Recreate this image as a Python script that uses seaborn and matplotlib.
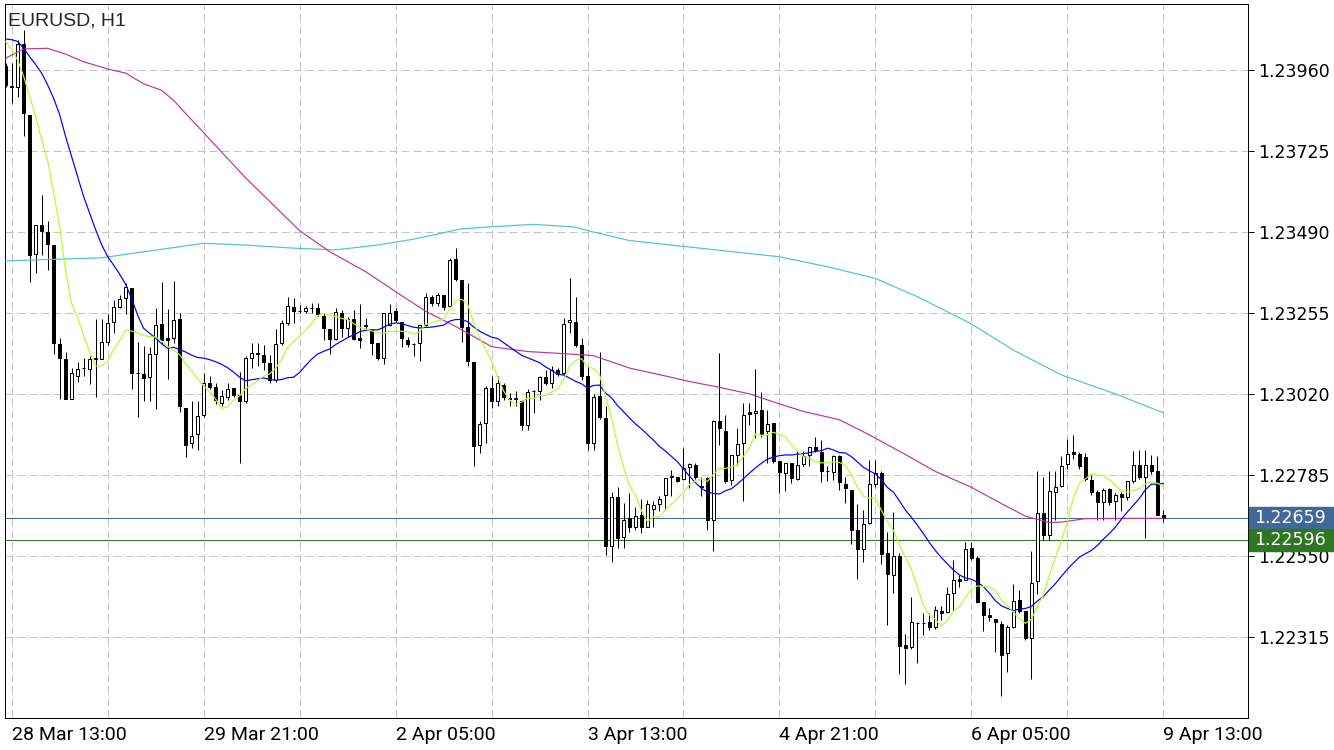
import numpy as np
import pandas as pd
import matplotlib
matplotlib.use("Agg")
import matplotlib.pyplot as plt
from matplotlib.patches import Rectangle
import seaborn as sns

# EURUSD H1 bars, prices in points (1 point = 0.00001)
opens = [
    123971, 123914, 123910, 124036, 123830, 123425, 123510, 123491, 123452, 123165,
    123122, 123005, 123071, 123095, 123092, 123122, 123122, 123170, 123229, 123273,
    123298, 123327, 123081, 123079, 123069, 123137, 123223, 123182, 123182, 123238,
    122979, 122877, 122904,
    122958, 123051, 123039, 122994, 123012, 123036, 123017, 122998, 123124, 123139,
    123134, 123109, 123061, 123167, 123227, 123272, 123261, 123261, 123269, 123269,
    123247, 123209, 123179, 123254, 123211, 123237, 123181, 123218, 123206, 123167,
    123124, 123220,
    123260, 123230, 123177, 123165, 123167, 123221, 123300, 123285, 123307, 123274,
    123412, 123351, 123214, 123113, 122872, 122937, 123037, 122999, 123046, 123008,
    123008, 122999, 122929, 123027, 123027, 123069, 123051, 123090, 123080, 123228,
    123228, 123162, 123071, 122877,
    123014, 122950, 122578, 122720, 122606, 122659, 122635, 122669, 122633, 122687,
    122700, 122727, 122780, 122778, 122772, 122807, 122814, 122751, 122775, 122653,
    122940, 122913, 122769, 122843, 122877, 122967, 122964, 122974, 122911, 122935,
    122824, 122790, 122819, 122773, 122817, 122844, 122867, 122852, 122795, 122792,
    122839, 122759, 122742, 122626, 122570, 122645, 122759, 122790, 122557, 122495,
    122549, 122290, 122286, 122355, 122355, 122357, 122343, 122391, 122387, 122443,
    122484, 122481,
    122573, 122544, 122415, 122377, 122366, 122353, 122268, 122345, 122423, 122391,
    122313, 122476, 122674, 122611, 122735, 122753, 122816, 122852, 122847, 122837,
    122771, 122734, 122705, 122743, 122708, 122730, 122721, 122768, 122815, 122778,
    122815, 122795, 122669,
]
highs = [
    123980, 123980, 124048, 124077, 123830, 123510, 123596, 123523, 123452, 123182,
    123142, 123095, 123113, 123125, 123131, 123237, 123237, 123252, 123293, 123306,
    123342, 123327, 123170, 123159, 123156, 123270, 123345, 123267, 123349, 123255,
    122979, 122999, 122999,
    123080, 123072, 123053, 123031, 123053, 123036, 123085, 123129, 123167, 123167,
    123162, 123134, 123208, 123234, 123302, 123297, 123279, 123274, 123285, 123283,
    123254, 123209, 123269, 123264, 123242, 123264, 123282, 123240, 123206, 123169,
    123256, 123282,
    123269, 123230, 123185, 123167, 123219, 123314, 123307, 123314, 123307, 123414,
    123443, 123351, 123341, 123113, 122940, 123042, 123071, 123071, 123051, 123024,
    123027, 123002, 123035, 123032, 123073, 123090, 123100, 123095, 123240, 123356,
    123302, 123182, 123100, 123020,
    123143, 122984, 122736, 122751, 122703, 122732, 122691, 122715, 122713, 122708,
    122723, 122775, 122800, 122780, 122863, 122819, 122819, 122780, 122780, 122945,
    123140, 122959, 122843, 122920, 122995, 122993, 123093, 123026, 122972, 122935,
    122824, 122819, 122819, 122854, 122854, 122866, 122894, 122887, 122810, 122844,
    122842, 122780, 122742, 122701, 122682, 122829, 122829, 122795, 122619, 122677,
    122559, 122322, 122431, 122357, 122384, 122384, 122404, 122404, 122461, 122539,
    122495, 122590,
    122591, 122549, 122415, 122400, 122366, 122360, 122350, 122469, 122451, 122391,
    122563, 122795, 122780, 122795, 122795, 122839, 122889, 122901, 122851, 122849,
    122785, 122742, 122746, 122746, 122732, 122734, 122766, 122853, 122858, 122858,
    122844, 122839, 122682,
]
lows = [
    123912, 123864, 123883, 123767, 123345, 123371, 123424, 123379, 123136, 123004,
    123004, 123004, 123054, 123071, 123049, 123010, 123120, 123162, 123197, 123270,
    123252, 123034, 122952, 122999, 122999, 122975, 123165, 123063, 123167, 122967,
    122837, 122864, 122857,
    122954, 123035, 122991, 122986, 123003, 123012, 122819, 122994, 123095, 123100,
    123090, 123053, 123056, 123162, 123220, 123227, 123254, 123256, 123254, 123247,
    123175, 123137, 123177, 123186, 123184, 123177, 123152, 123206, 123133, 123119,
    123106, 123216,
    123230, 123157, 123157, 123129, 123115, 123218, 123274, 123274, 123264, 123274,
    123348, 123172, 123100, 122810, 122849, 122877, 122979, 122984, 123003, 122984,
    122986, 122916, 122916, 122965, 123003, 123046, 123037, 123073, 123071, 123198,
    123157, 123061, 122858, 122858,
    122946, 122553, 122531, 122573, 122573, 122620, 122625, 122616, 122633, 122635,
    122679, 122682, 122723, 122763, 122770, 122746, 122773, 122723, 122625, 122563,
    122872, 122761, 122756, 122814, 122708, 122930, 122891, 122896, 122819, 122819,
    122732, 122737, 122761, 122771, 122810, 122812, 122851, 122763, 122766, 122771,
    122742, 122704, 122583, 122484, 122531, 122643, 122749, 122526, 122350, 122443,
    122208, 122179, 122280, 122239, 122321, 122335, 122337, 122365, 122384, 122394,
    122461, 122481,
    122539, 122413, 122333, 122360, 122270, 122142, 122212, 122340, 122384, 122307,
    122192, 122438, 122596, 122596, 122655, 122749, 122802, 122831, 122802, 122766,
    122727, 122655, 122655, 122698, 122655, 122679, 122713, 122761, 122773, 122601,
    122787, 122669, 122647,
]
closes = [
    123917, 123910, 124036, 123836, 123424, 123510, 123493, 123454, 123167, 123125,
    123004, 123081, 123092, 123096, 123122, 123123, 123170, 123226, 123273, 123295,
    123330, 123081, 123080, 123066, 123137, 123220, 123177, 123175, 123235, 122984,
    122872, 122899, 122955,
    123053, 123041, 123001, 123014, 123033, 123017, 122998, 123124, 123139, 123135,
    123114, 123061, 123164, 123225, 123276, 123262, 123262, 123269, 123270, 123252,
    123211, 123179, 123257, 123211, 123237, 123179, 123177, 123219, 123167, 123124,
    123256, 123256,
    123235, 123182, 123165, 123164, 123219, 123300, 123285, 123307, 123271, 123410,
    123353, 123213, 123115, 122870, 122933, 123037, 122999, 123051, 123012, 123005,
    123005, 122929, 123025, 123028, 123069, 123051, 123090, 123078, 123223, 123235,
    123162, 123071, 122877, 123012,
    122954, 122578, 122720, 122603, 122654, 122635, 122667, 122633, 122700, 122698,
    122715, 122775, 122781, 122768, 122804, 122817, 122778, 122752, 122653, 122940,
    122920, 122766, 122843, 122875, 122959, 122961, 122971, 122904, 122933, 122824,
    122792, 122819, 122776, 122815, 122841, 122865, 122856, 122795, 122796, 122839,
    122763, 122746, 122626, 122571, 122643, 122759, 122790, 122556, 122496, 122549,
    122288, 122283, 122357, 122356, 122355, 122343, 122394, 122384, 122438, 122481,
    122478, 122570,
    122544, 122415, 122377, 122373, 122357, 122263, 122345, 122418, 122389, 122313,
    122471, 122674, 122611, 122739, 122749, 122810, 122847, 122847, 122810, 122773,
    122734, 122705, 122742, 122705, 122727, 122721, 122766, 122815, 122778, 122815,
    122795, 122669, 122659,
]

# moving-average values before enough bars are on screen (history is off-chart)
ma8_head = [124043, 124019, 123989, 123942, 123883, 123825, 123758]
ma20_head = [124050, 124048, 124043, 124023, 123999, 123976, 123951, 123917, 123878, 123831,
             123767, 123709, 123651, 123593, 123545, 123497, 123453, 123419, 123394]

# slow averages at these bars
ma50_bars = [0, 3, 7, 10, 13, 17, 20, 23, 26, 28, 30, 32, 40, 49, 54, 60, 65, 70, 75, 79,
             81, 87, 92, 98, 104, 110, 114, 119, 124, 129, 133, 139, 144, 150, 155, 161, 165,
             170, 174, 176, 180, 187, 193]
ma50_vals = [123994, 124021, 124023, 124006, 123984, 123963, 123951, 123920, 123901, 123872,
             123834, 123797, 123647, 123494, 123433, 123375, 123317, 123260, 123216, 123177,
             123157, 123143, 123138, 123131, 123095, 123072, 123056, 123039, 123020, 122991,
             122969, 122945, 122901, 122844, 122795, 122749, 122711, 122665, 122647, 122648,
             122658, 122659, 122659]
ma200_bars = [0, 16, 33, 40, 48, 55, 62, 68, 76, 81, 88, 95, 97, 104, 112, 121, 129, 137,
              145, 152, 161, 168, 176, 185, 193]
ma200_vals = [123406, 123415, 123457, 123452, 123443, 123438, 123452, 123469, 123499, 123505,
              123512, 123504, 123494, 123465, 123450, 123433, 123418, 123389, 123355, 123302,
              123223, 123147, 123075, 123020, 122965]

tick_bars = [1, 33, 65, 97, 129, 161, 193]
tick_labels = ["28 Mar 13:00", "29 Mar 21:00", "2 Apr 05:00", "3 Apr 13:00",
               "4 Apr 21:00", "6 Apr 05:00", "9 Apr 13:00"]
price_ticks = [1.22315, 1.22550, 1.22785, 1.23020, 1.23255, 1.23490, 1.23725, 1.23960]
bid_price = 1.22659
level_price = 1.22596

BID_COLOR = "#406898"
LEVEL_COLOR = "#2E7624"
PX = 0.72  # one pixel in points at dpi 100

sns.set_style("white")
plt.rcParams["font.family"] = ["DejaVu Sans"]

bars = pd.DataFrame({"open": opens, "high": highs, "low": lows, "close": closes}) / 1e5
bars["bar"] = np.arange(len(bars))

ma8 = bars["close"].rolling(8).mean()
ma8.iloc[:len(ma8_head)] = np.array(ma8_head) / 1e5
ma20 = bars["close"].rolling(20).mean()
ma20.iloc[:len(ma20_head)] = np.array(ma20_head) / 1e5

fig = plt.figure(figsize=(13.34, 7.5), dpi=100)
ax = fig.add_axes([5 / 1334, 32 / 750, 1243 / 1334, 714 / 750])
ax.set_xlim(-0.1, 207.1)
ax.set_ylim(1.220795, 1.241515)

# candles
up = bars["close"] >= bars["open"]
body_lo = np.minimum(bars["open"], bars["close"])
body_h = (bars["close"] - bars["open"]).abs()
ax.vlines(bars["bar"], bars["low"], bars["high"], color="black", lw=PX, zorder=3)
ax.bar(bars["bar"][up], body_h[up], bottom=body_lo[up], width=0.62,
       color="white", edgecolor="black", linewidth=PX, zorder=4)
ax.bar(bars["bar"][~up], body_h[~up], bottom=body_lo[~up], width=0.62,
       color="black", edgecolor="black", linewidth=PX, zorder=4)

# price levels
ax.axhline(bid_price, color=BID_COLOR, lw=PX, zorder=2)
ax.axhline(level_price, color=LEVEL_COLOR, lw=PX, zorder=2)

# moving averages
sns.lineplot(x=np.array(ma200_bars), y=np.array(ma200_vals) / 1e5, color="#50C4D6",
             lw=PX * 1.2, ax=ax, zorder=5)
sns.lineplot(x=np.array(ma50_bars), y=np.array(ma50_vals) / 1e5, color="#C2359F",
             lw=PX * 1.2, ax=ax, zorder=5)
sns.lineplot(x=bars["bar"], y=ma20, color="#0000FF", lw=PX * 1.2, ax=ax, zorder=6)
sns.lineplot(x=bars["bar"], y=ma8, color="#ADFF2F", lw=PX * 1.2, ax=ax, zorder=6)

# grid
grid_kw = dict(color="#C4C4C4", linestyle=(0, (8, 4)), linewidth=PX)
ax.set_xticks(tick_bars)
ax.set_xticks([b + 16 for b in tick_bars[:-1]], minor=True)
ax.set_yticks(price_ticks)
ax.grid(axis="x", which="both", zorder=0, **grid_kw)
ax.grid(axis="y", which="major", zorder=0, **grid_kw)
ax.set_axisbelow(True)

ax.yaxis.tick_right()
ax.set_yticklabels([f"{p:.5f}" for p in price_ticks], fontsize=12.5)
ax.set_xticklabels(tick_labels, ha="left", fontsize=14, family=["Roboto", "DejaVu Sans"])
ax.tick_params(axis="both", which="major", direction="out", length=4, width=PX,
               color="black", labelcolor="black")
ax.tick_params(axis="x", which="major", pad=2)
ax.tick_params(axis="y", which="major", pad=3)
ax.tick_params(axis="x", which="minor", length=0)
for s in ax.spines.values():
    s.set_color("black")
    s.set_linewidth(PX)
ax.set_xlabel("")
ax.set_ylabel("")

# price tags on the right scale
for price, col in [(bid_price, BID_COLOR), (level_price, LEVEL_COLOR)]:
    y_px = ax.transData.transform((0, price))[1]
    fig.add_artist(Rectangle((1249 / 1334, (y_px - 11) / 750), 85 / 1334, 22 / 750,
                             transform=fig.transFigure, color=col, zorder=10))
    fig.text(1254 / 1334, y_px / 750, f"{price:.5f}", color="white", fontsize=12.5,
             va="center", ha="left", zorder=11)

fig.text(8 / 1334, 1 - 26 / 750, "EURUSD, H1", fontsize=14,
         family=["Liberation Sans", "DejaVu Sans"], va="baseline")

fig.savefig("out.png", dpi=100)
plt.close(fig)
